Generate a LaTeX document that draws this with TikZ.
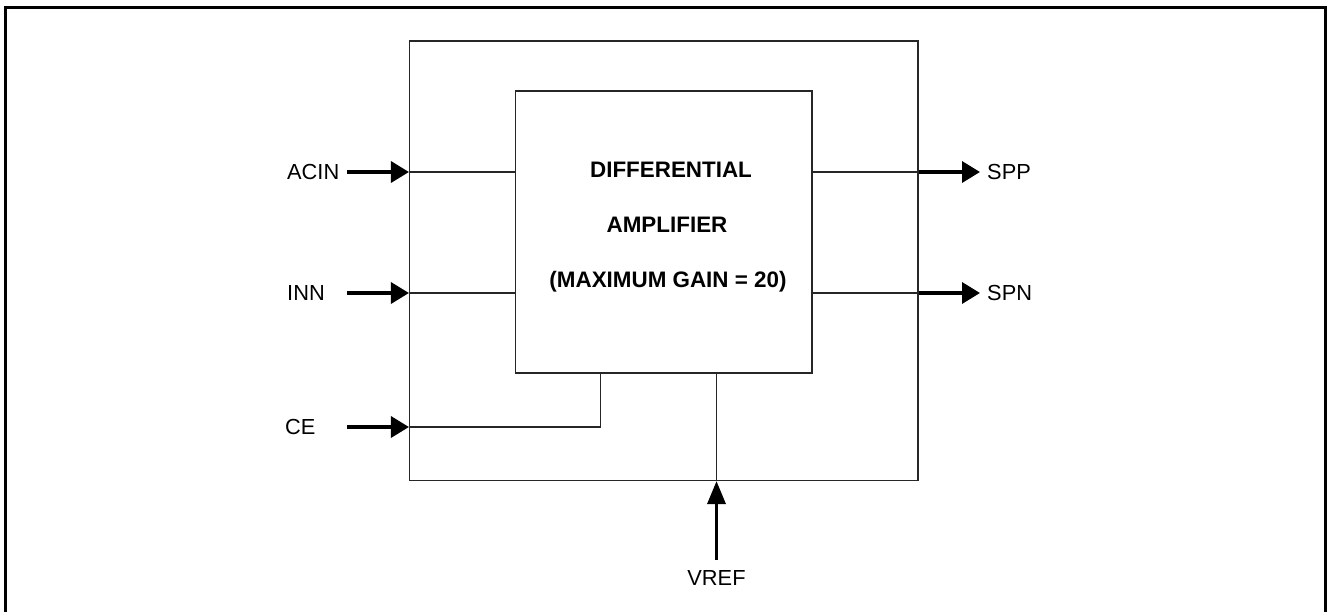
\documentclass[tikz,border=0pt]{standalone}
\usepackage{fontspec}
\setmainfont{Liberation Sans}
\usetikzlibrary{arrows.meta,calc}
\tikzset{
  thin line/.style={line width=1.1pt, draw=black!85},
  box/.style={thin line, rectangle, inner sep=0pt},
  sig/.style={line width=3.4pt, -{Triangle[length=18pt,width=21pt]}},
  sigv/.style={line width=3.4pt, -{Triangle[length=23pt,width=18pt]}},
  lbl/.style={inner sep=0pt, font=\fontsize{21.8}{26}\selectfont},
  title/.style={inner sep=0pt, font=\fontsize{22.4}{27}\selectfont\bfseries, anchor=base},
  frame/.style={line width=3pt}
}
\begin{document}
\begin{tikzpicture}[x=1pt,y=-1pt]
\useasboundingbox (0,0) rectangle (1327,611);
\clip (0,0) rectangle (1327,611);
\draw[frame] (5.5,620) -- (5.5,7) -- (1325,7) -- (1325,620);

% boxes
\node[box, minimum width=508.5pt, minimum height=439.5pt] (outer) at (663.75,260.75) {};
\node[box, minimum width=296.5pt, minimum height=282pt] (inner) at (663.75,232) {};

% title text
\node[title] (t1) at (671,177) {DIFFERENTIAL};
\node[title] (t2) at (667,232) {AMPLIFIER};
\node[title] (t3) at (668,287) {(MAXIMUM GAIN = 20)};

% left labels
\node[lbl, anchor=west] (acin) at (287,172) {ACIN};
\node[lbl, anchor=west] (inn) at (287,293) {INN};
\node[lbl, anchor=west] (ce) at (285,427) {CE};
\coordinate (acinS) at (347,172);
\coordinate (innS) at (347,293);
\coordinate (ceS) at (347,427);

\draw[sig] (acinS) -- (acinS -| outer.west);
\draw[sig] (innS) -- (innS -| outer.west);
\draw[sig] (ceS) -- (ceS -| outer.west);

\draw[thin line] (acinS -| outer.west) -- (acinS -| inner.west);
\draw[thin line] (innS -| outer.west) -- (innS -| inner.west);
\coordinate (ceUp) at (600.5,373);
\draw[thin line] (ceS -| outer.west) -- (ceS -| ceUp) -- (ceUp |- inner.south);

% right outputs
\node[lbl, anchor=west] (spp) at (987,172) {SPP};
\node[lbl, anchor=west] (spn) at (987,293) {SPN};
\coordinate (sppE) at (980,172);
\coordinate (spnE) at (980,293);
\draw[thin line] (sppE -| inner.east) -- (sppE -| outer.east);
\draw[thin line] (spnE -| inner.east) -- (spnE -| outer.east);
\draw[sig] (sppE -| outer.east) -- (sppE);
\draw[sig] (spnE -| outer.east) -- (spnE);

% vref
\coordinate (vx) at (716.5,0);
\node[lbl] (vref) at (716.5,578) {VREF};
\coordinate (vrefS) at (716.5,560);
\draw[thin line] (vx |- inner.south) -- (vx |- outer.south);
\draw[sigv] (vrefS) -- (vrefS |- outer.south);
\end{tikzpicture}
\end{document}
